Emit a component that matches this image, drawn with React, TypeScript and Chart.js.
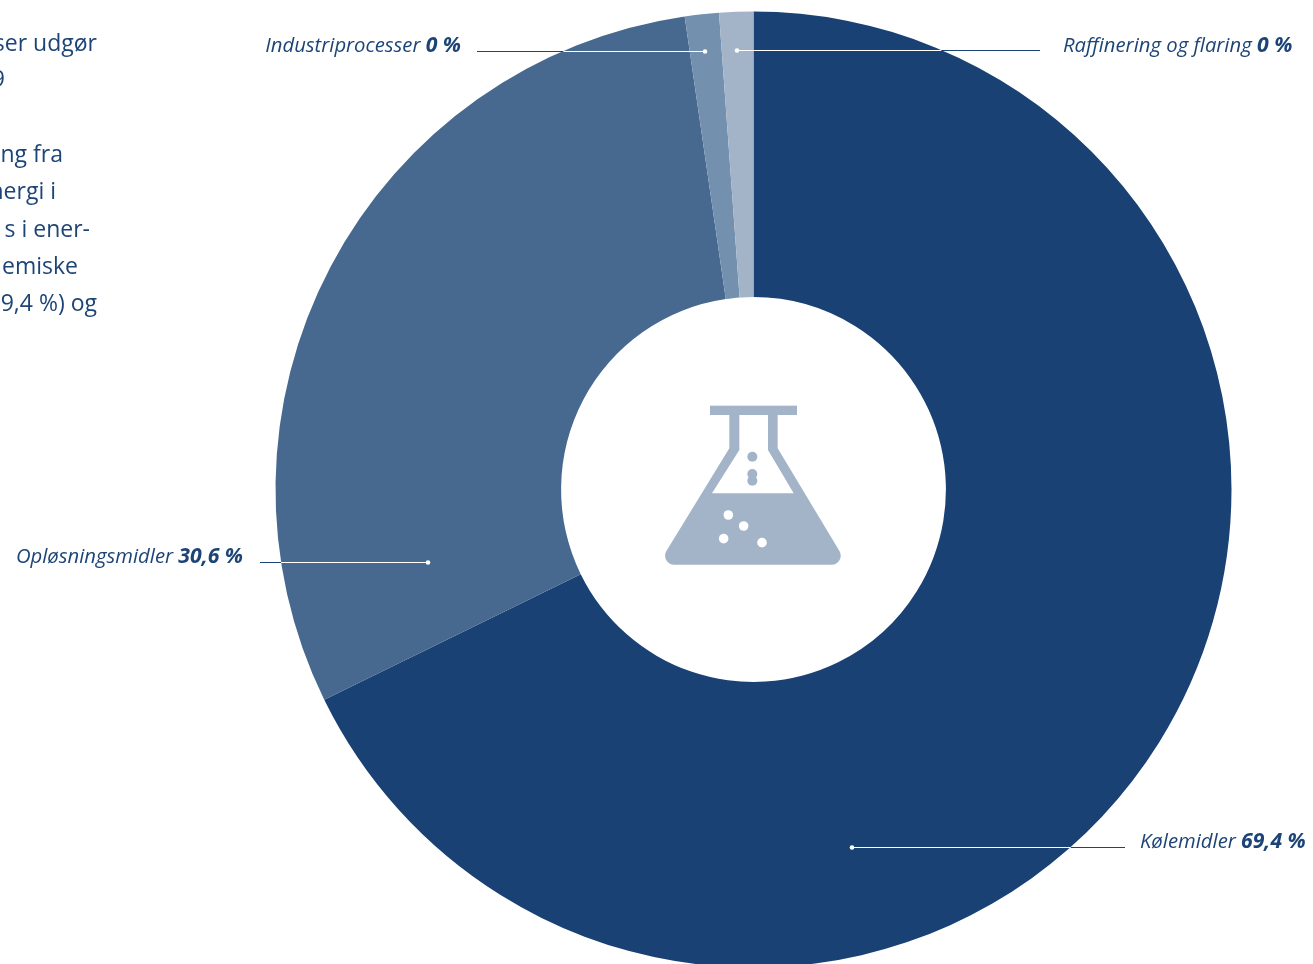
import React, { useEffect, useRef } from "react";
import { Chart, registerables } from "chart.js";

Chart.register(...registerables);

const categories = ["Kølemidler", "Opløsningsmidler", "Industriprocesser", "Raffinering og flaring"];
const sliceValues = [67.75, 29.95, 1.15, 1.15];
const shownPercent = ["69,4 %", "30,6 %", "0 %", "0 %"];
const sliceColors = ["#194174", "#47698f", "#7390af", "#a3b4c9"];
const bodyFragments = ["ser udgør", "9", "ng fra", "nergi i", "s i ener-", "emiske", "9,4 %) og"];

const INK = "#1c4476";
const FONT = '"Open Sans", sans-serif';

// annotation layout: [index, dotX, lineEndX, y, textX, textBaselineY, align]
const leaders: [number, number, number, number, number, number, CanvasTextAlign][] = [
  [0, 852, 1125, 847, 1140, 848, "left"],
  [1, 428, 260, 562, 243, 563, "right"],
  [2, 705, 477, 51, 461, 52, "right"],
  [3, 737, 1040, 50, 1063, 52, "left"],
];
const bodyLayout: [number, number][] = [
  [97, 51], [5, 87], [63, 162], [56, 199], [90, 237], [78, 274], [97, 311],
];

function drawFlask(ctx: CanvasRenderingContext2D) {
  const c = "#a3b4c9";
  const P = (zx: number, zy: number): [number, number] => [640 + zx / 3, 380 + zy / 3];
  ctx.save();
  ctx.fillStyle = c;
  const [bx0, by0] = P(210, 77);
  const [bx1, by1] = P(471, 105);
  ctx.fillRect(bx0, by0, bx1 - bx0, by1 - by0);

  // flask silhouette with a rounded foot
  const neckL = P(268, 100);
  const shoulderL = P(268, 205);
  const cornerL = P(54, 554);
  const cornerR = P(623, 554);
  const shoulderR = P(413, 205);
  const neckR = P(413, 100);
  ctx.beginPath();
  ctx.moveTo(neckL[0], neckL[1]);
  ctx.lineTo(shoulderL[0], shoulderL[1]);
  ctx.arcTo(cornerL[0], cornerL[1], cornerR[0], cornerR[1], 9);
  ctx.arcTo(cornerR[0], cornerR[1], shoulderR[0], shoulderR[1], 9);
  ctx.lineTo(shoulderR[0], shoulderR[1]);
  ctx.lineTo(neckR[0], neckR[1]);
  const inner: [number, number][] = [[384, 100], [384, 210], [461, 340], [216, 340], [298, 210], [298, 100]];
  inner.forEach((p) => {
    const [x, y] = P(p[0], p[1]);
    ctx.lineTo(x, y);
  });
  ctx.closePath();
  ctx.fill();

  const dots = (list: [number, number][], col: string, rad: number) => {
    ctx.fillStyle = col;
    list.forEach((d) => {
      const [x, y] = P(d[0], d[1]);
      ctx.beginPath();
      ctx.arc(x, y, rad, 0, Math.PI * 2);
      ctx.fill();
    });
  };
  dots([[337, 230], [337, 282], [337, 302]], c, 5);
  dots([[265, 405], [311, 438], [251, 476], [366, 488]], "#ffffff", 4.8);
  ctx.restore();
}

const annotate = {
  id: "annotate",
  afterDraw(chart: Chart) {
    const ctx = chart.ctx;
    const arc: any = chart.getDatasetMeta(0).data[0];
    const { x: cx, y: cy, outerRadius: R } = arc;
    ctx.save();
    ctx.textBaseline = "alphabetic";

    leaders.forEach(([i, dotX, endX, y, tx, ty, align]) => {
      const half = Math.sqrt(Math.max(R * R - (y - cy) * (y - cy), 0));
      const edgeX = endX > dotX ? cx + half : cx - half;
      ctx.lineWidth = 1;
      ctx.strokeStyle = "#ffffff";
      ctx.beginPath();
      ctx.moveTo(dotX, y + 0.5);
      ctx.lineTo(edgeX, y + 0.5);
      ctx.stroke();
      ctx.strokeStyle = INK;
      ctx.beginPath();
      ctx.moveTo(edgeX, y + 0.5);
      ctx.lineTo(endX, y + 0.5);
      ctx.stroke();
      ctx.fillStyle = "#ffffff";
      ctx.beginPath();
      ctx.arc(dotX, y + 0.5, 2.3, 0, Math.PI * 2);
      ctx.fill();

      const name = categories[i] + " ";
      const value = shownPercent[i];
      const nameFont = `italic 400 20.3px ${FONT}`;
      const valueFont = `italic 700 21.2px ${FONT}`;
      ctx.font = nameFont;
      const nw = ctx.measureText(name).width;
      ctx.font = valueFont;
      const vw = ctx.measureText(value).width;
      const left = align === "left" ? tx : tx - nw - vw;
      ctx.textAlign = "left";
      ctx.fillStyle = INK;
      ctx.font = nameFont;
      ctx.fillText(name, left, ty);
      ctx.font = valueFont;
      ctx.fillText(value, left + nw, ty);
    });

    ctx.fillStyle = INK;
    ctx.font = `400 23px "Open Sans", sans-serif`;
    ctx.textAlign = "right";
    bodyFragments.forEach((t, i) => {
      const [x, y] = bodyLayout[i];
      ctx.fillText(t, x, y);
    });

    drawFlask(ctx);
    ctx.restore();
  },
};

export default function App() {
  const ref = useRef<HTMLCanvasElement>(null);
  useEffect(() => {
    const chart = new Chart(ref.current!, {
      type: "doughnut",
      data: {
        labels: categories,
        datasets: [{ data: sliceValues, backgroundColor: sliceColors, borderWidth: 0 }],
      },
      options: {
        animation: false,
        responsive: false,
        radius: 478,
        cutout: 191,
        layout: { padding: { left: 194, top: 15 } },
        plugins: { legend: { display: false }, tooltip: { enabled: false }, title: { display: false } },
      } as any,
      plugins: [annotate],
    });
    return () => chart.destroy();
  }, []);
  return (
    <div style={{ position: "fixed", left: 0, top: 0, width: 1313, height: 964, overflow: "hidden", background: "#fff" }}>
      <canvas ref={ref} width={1313} height={964} style={{ display: "block" }} />
    </div>
  );
}
